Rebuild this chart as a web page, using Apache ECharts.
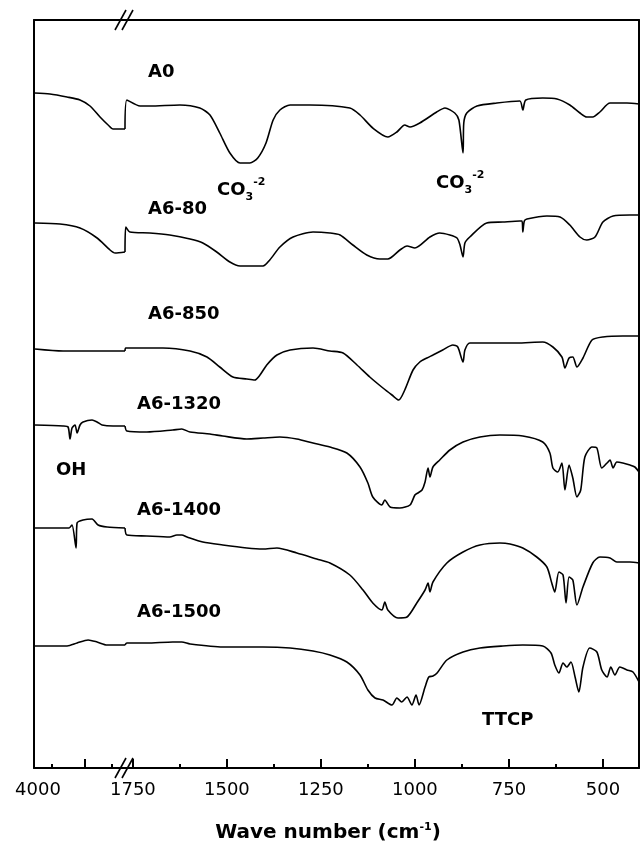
<!DOCTYPE html>
<html>
<head>
<meta charset="utf-8">
<script src="https://cdn.jsdelivr.net/npm/echarts@6/dist/echarts.min.js"></script>
<style>
html,body{margin:0;padding:0;background:#fff;}
#c{width:643px;height:849px;}
</style>
</head>
<body>
<div id="c"></div>
<script>
// Wavenumber (cm-1) / transmittance (a.u., offset stacked)
// High-wavenumber segment (4000 - 3100 cm-1) and fingerprint segment (1771 - 404 cm-1)
const a0High = [[3995,675],[3842,674],[3673,671],[3545,668],[3446,662],[3347,651],[3267,643],[3218,639],[3100,639]];
const a0Low = [[1771,639],[1766,668],[1731,662],[1705,662],[1625,663],[1572,660],[1545,653],[1519,635],[1492,615],[1465,605],[1439,605],[1418,610],[1396,625],[1377,648],[1359,658],[1332,663],[1279,663],[1173,660],[1146,653],[1112,640],[1072,631],[1048,636],[1027,643],[1013,641],[987,645],[942,656],[920,660],[894,655],[883,648],[872,615],[870,645],[862,655],[835,662],[782,665],[721,667],[713,658],[705,668],[660,670],[622,669],[588,663],[561,655],[543,651],[527,651],[508,656],[481,665],[436,665],[404,664]];

const a680High = [[3990,545],[3743,544],[3545,540],[3376,530],[3248,518],[3198,515],[3100,516]];
const a680Low = [[1771,516],[1769,541],[1758,536],[1705,535],[1652,533],[1598,529],[1564,525],[1527,516],[1492,506],[1465,502],[1404,502],[1386,508],[1359,521],[1324,531],[1271,536],[1226,535],[1199,533],[1165,523],[1128,513],[1093,509],[1072,509],[1040,518],[1021,522],[1000,520],[960,531],[934,535],[907,533],[888,530],[880,523],[872,511],[867,525],[854,531],[809,545],[766,546],[721,547],[715,547],[713,536],[709,547],[702,549],[649,552],[614,551],[588,543],[561,531],[543,528],[521,531],[500,546],[473,552],[428,553],[404,553]];

const a6850High = [[3990,419],[3713,417],[3376,417],[3100,417]];
const a6850Low = [[1771,417],[1769,420],[1670,420],[1598,417],[1553,411],[1519,401],[1484,391],[1447,389],[1426,388],[1412,393],[1394,403],[1367,413],[1332,418],[1271,420],[1226,417],[1191,415],[1154,403],[1120,391],[1085,380],[1061,373],[1043,368],[1027,378],[1005,398],[987,406],[968,410],[952,413],[926,418],[899,423],[886,421],[872,406],[867,418],[854,425],[801,425],[729,425],[660,426],[633,421],[609,411],[601,400],[590,410],[580,411],[569,401],[553,410],[529,428],[500,431],[447,432],[404,432]];

const a61320High = [[3990,343],[3713,342],[3663,341],[3644,329],[3624,340],[3594,343],[3574,335],[3545,343],[3515,346],[3426,348],[3376,346],[3327,343],[3218,342],[3100,342]];
const a61320Low = [[1771,342],[1766,337],[1713,336],[1644,338],[1620,339],[1598,336],[1545,334],[1511,332],[1447,329],[1404,330],[1359,331],[1314,329],[1271,325],[1226,321],[1181,315],[1146,301],[1125,285],[1112,271],[1088,263],[1080,268],[1066,261],[1040,260],[1013,263],[1000,273],[992,275],[981,278],[973,286],[965,300],[960,291],[952,301],[934,308],[907,318],[872,326],[827,331],[774,333],[713,332],[660,326],[641,315],[633,300],[620,296],[609,305],[601,278],[590,303],[580,290],[569,271],[559,278],[548,311],[529,321],[516,320],[503,300],[489,305],[481,308],[473,300],[463,306],[447,305],[428,303],[415,301],[404,296]];

const a61400High = [[3990,240],[3713,240],[3653,240],[3624,243],[3584,220],[3574,245],[3515,248],[3426,249],[3366,243],[3277,241],[3100,240]];
const a61400Low = [[1771,240],[1766,233],[1713,232],[1652,231],[1633,233],[1620,233],[1606,231],[1564,226],[1511,223],[1447,220],[1404,219],[1367,220],[1314,215],[1261,209],[1226,205],[1173,193],[1138,178],[1112,165],[1088,158],[1080,166],[1072,158],[1045,150],[1021,151],[995,165],[973,178],[965,185],[960,176],[952,186],[915,205],[872,216],[827,223],[774,225],[747,224],[713,220],[676,211],[649,201],[636,185],[628,176],[617,196],[606,193],[598,165],[590,191],[580,188],[569,163],[553,181],[527,205],[508,211],[481,210],[463,206],[428,206],[404,205]];

const a61500High = [[3990,122],[3673,122],[3574,125],[3465,128],[3376,126],[3277,123],[3100,123]];
const a61500Low = [[1771,123],[1766,125],[1713,125],[1644,126],[1620,126],[1598,124],[1511,121],[1404,121],[1332,120],[1271,117],[1226,113],[1181,106],[1146,93],[1125,78],[1106,70],[1085,68],[1061,63],[1048,70],[1035,66],[1021,71],[1008,63],[997,73],[989,63],[973,81],[963,91],[952,92],[941,95],[915,108],[872,116],[827,120],[766,122],[713,123],[660,122],[638,115],[628,103],[617,95],[606,105],[596,101],[585,106],[574,91],[564,76],[553,101],[535,120],[516,116],[503,98],[489,91],[479,101],[468,93],[455,101],[436,98],[420,96],[404,86]];

const sampleNames = ['A0','A6-80','A6-850','A6-1320','A6-1400','A6-1500'];
const highData = [a0High, a680High, a6850High, a61320High, a61400High, a61500High];
const lowData = [a0Low, a680Low, a6850Low, a61320Low, a61400Low, a61500Low];

const tickLabelsHigh = [4000];
const tickLabelsLow = [1750, 1500, 1250, 1000, 750, 500];
const minorTicksHigh = [3820, 3230];
const majorTicksHigh = [4000, 3500];
const minorTicksLow = [1625, 1375, 1125, 875, 625];
const xTitle = 'Wave number (cm';

const chart = echarts.init(document.getElementById('c'), null, {renderer: 'canvas'});

const FONT = 'DejaVu Sans';
const lineStyleAxis = {color: '#000', width: 2};
const plainFmt = v => String(v);

const grids = [
  {left: 34, right: 518, top: 20, bottom: 81},
  {left: 125, right: 4, top: 20, bottom: 81}
];

const hiddenLbl = {show: false};
const xAxes = [
  // 0: high segment bottom
  {gridIndex: 0, type: 'value', min: 3100, max: 4000, inverse: true, position: 'bottom',
   axisLine: {show: true, onZero: false, lineStyle: lineStyleAxis},
   axisTick: {show: true, inside: true, length: 9, customValues: majorTicksHigh, lineStyle: {color: '#000', width: 2}},
   axisLabel: {show: true, customValues: tickLabelsHigh, formatter: plainFmt, margin: 13, color: '#000', fontFamily: FONT, fontSize: 18, padding: [0, 0, 0, 8]},
   splitLine: {show: false}},
  // 1: fingerprint segment bottom
  {gridIndex: 1, type: 'value', min: 404, max: 1771, inverse: true, position: 'bottom',
   axisLine: {show: true, onZero: false, lineStyle: lineStyleAxis},
   axisTick: {show: true, inside: true, length: 9, customValues: tickLabelsLow, lineStyle: {color: '#000', width: 2}},
   axisLabel: {show: true, customValues: tickLabelsLow, formatter: plainFmt, margin: 13, color: '#000', fontFamily: FONT, fontSize: 18},
   splitLine: {show: false}},
  // 2,3: top frame
  {gridIndex: 0, type: 'value', min: 3100, max: 4000, inverse: true, position: 'top',
   axisLine: {show: true, onZero: false, lineStyle: lineStyleAxis}, axisTick: {show: false}, axisLabel: hiddenLbl, splitLine: {show: false}},
  {gridIndex: 1, type: 'value', min: 404, max: 1771, inverse: true, position: 'top',
   axisLine: {show: true, onZero: false, lineStyle: lineStyleAxis}, axisTick: {show: false}, axisLabel: hiddenLbl, splitLine: {show: false}},
  // 4,5: minor ticks
  {gridIndex: 0, type: 'value', min: 3100, max: 4000, inverse: true, position: 'bottom',
   axisLine: {show: false, onZero: false}, axisTick: {show: true, inside: true, length: 4, customValues: minorTicksHigh, lineStyle: {color: '#000', width: 2}},
   axisLabel: hiddenLbl, splitLine: {show: false}},
  {gridIndex: 1, type: 'value', min: 404, max: 1771, inverse: true, position: 'bottom',
   axisLine: {show: false, onZero: false}, axisTick: {show: true, inside: true, length: 4, customValues: minorTicksLow, lineStyle: {color: '#000', width: 2}},
   axisLabel: hiddenLbl, splitLine: {show: false}}
];

const yAxes = [
  {gridIndex: 0, type: 'value', min: 0, max: 748, position: 'left',
   axisLine: {show: true, onZero: false, lineStyle: lineStyleAxis}, axisTick: {show: false}, axisLabel: hiddenLbl, splitLine: {show: false}},
  {gridIndex: 1, type: 'value', min: 0, max: 748, position: 'right',
   axisLine: {show: true, onZero: false, lineStyle: lineStyleAxis}, axisTick: {show: false}, axisLabel: hiddenLbl, splitLine: {show: false}}
];

const series = [];
sampleNames.forEach((name, i) => {
  series.push({name: name, type: 'line', xAxisIndex: 0, yAxisIndex: 0, data: highData[i], smooth: 0.25,
    showSymbol: false, symbol: 'none', lineStyle: {color: '#000', width: 1.6}, silent: true, animation: false});
  series.push({name: name, type: 'line', xAxisIndex: 1, yAxisIndex: 1, data: lowData[i], smooth: 0.25,
    showSymbol: false, symbol: 'none', lineStyle: {color: '#000', width: 1.6}, silent: true, animation: false});
});

chart.setOption({
  animation: false,
  backgroundColor: '#fff',
  grid: grids,
  xAxis: xAxes,
  yAxis: yAxes,
  series: series
});

// annotations
const bold = {fontFamily: FONT, fontWeight: 'bold', fontSize: 18, fill: '#000'};
function txt(text, x, y, extra) {
  return Object.assign({type: 'text', x: x, y: y, style: Object.assign({}, bold, {text: text, textVerticalAlign: 'middle', textAlign: 'left'}, extra || {}), silent: true});
}
const brk = chart.convertToPixel({xAxisIndex: 1, yAxisIndex: 1}, [1771, 0]);
const brkTop = chart.convertToPixel({xAxisIndex: 1, yAxisIndex: 1}, [1771, 748]);
const bx = brk[0];
function slash(cx, cy) {
  return [
    {type: 'line', shape: {x1: cx - 8, y1: cy + 10, x2: cx + 3, y2: cy - 10}, style: {stroke: '#000', lineWidth: 1.6}, silent: true},
    {type: 'line', shape: {x1: cx - 1, y1: cy + 10, x2: cx + 10, y2: cy - 10}, style: {stroke: '#000', lineWidth: 1.6}, silent: true}
  ];
}
const co3Rich = {
  m: {fontFamily: FONT, fontWeight: 'bold', fontSize: 18, lineHeight: 26, fill: '#000', color: '#000'},
  sb: {fontFamily: FONT, fontWeight: 'bold', fontSize: 11, lineHeight: 11, verticalAlign: 'bottom', color: '#000'},
  sp: {fontFamily: FONT, fontWeight: 'bold', fontSize: 11, lineHeight: 11, verticalAlign: 'top', color: '#000'}
};
const graphics = [
  txt('A0', 148, 72),
  txt('A6-80', 148, 209),
  txt('A6-850', 148, 314),
  txt('A6-1320', 137, 404),
  txt('OH', 56, 470),
  txt('A6-1400', 137, 510),
  txt('A6-1500', 137, 612),
  txt('TTCP', 482, 720),
  {type: 'text', x: 217, y: 190, silent: true, style: {text: '{m|CO}{sb|3}{sp|-2}', rich: co3Rich, textVerticalAlign: 'middle'}},
  {type: 'text', x: 436, y: 183, silent: true, style: {text: '{m|CO}{sb|3}{sp|-2}', rich: co3Rich, textVerticalAlign: 'middle'}},
  {type: 'text', x: 328, y: 833, silent: true, style: {
    text: '{t|' + xTitle + '}{s|-1}{t|)}', textAlign: 'center', textVerticalAlign: 'middle',
    rich: {
      t: {fontFamily: FONT, fontWeight: 'bold', fontSize: 20, lineHeight: 26, color: '#000'},
      s: {fontFamily: FONT, fontWeight: 'bold', fontSize: 11, lineHeight: 11, verticalAlign: 'top', color: '#000', padding: [2, 0, 0, 0]}
    }}}
].concat(slash(bx - 2, brk[1] - 0)).concat(slash(bx - 2, brkTop[1]));

chart.setOption({graphic: graphics});
</script>
</body>
</html>
